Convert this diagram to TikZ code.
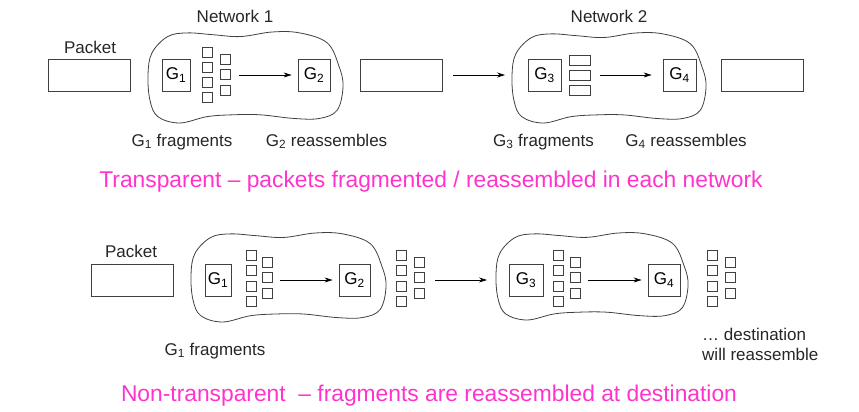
\documentclass[tikz,border=0pt]{standalone}
\usepackage{fontspec}
\setmainfont{Liberation Sans}
\usetikzlibrary{arrows.meta}
\definecolor{pinktext}{HTML}{FF33CC}
\definecolor{ln}{HTML}{404040}
\begin{document}
\begin{tikzpicture}[x=1pt,y=-1pt,
  pkt/.style={draw=ln, line width=0.8pt, minimum width=82pt, minimum height=32pt, inner sep=0pt},
  gw/.style={draw=ln, line width=0.8pt, minimum height=32pt, inner sep=0pt, font=\fontsize{17}{17}\selectfont},
  frag/.style={draw=ln, line width=0.8pt, minimum width=10pt, minimum height=10pt, inner sep=0pt},
  wfrag/.style={frag, minimum width=21pt},
  lbl/.style={font=\fontsize{17}{20}\selectfont, inner sep=0pt, text=black!85},
  pinklbl/.style={text=pinktext, font=\fontsize{22.8}{26}\selectfont, inner sep=0pt},
  arr/.style={-{Stealth[length=8pt,width=5pt]}, line width=0.7pt, draw=black},
  cloudline/.style={draw=ln, line width=0.8pt}]
\useasboundingbox (0,0) rectangle (859,412);

% ---------- cloud shape ----------
\def\cloudpts{(0.02,0.23) (0.10,0.05) (0.20,0.01) (0.33,0.03) (0.47,0.05) (0.63,0.0) (0.77,0.01) (0.91,0.12) (0.97,0.38) (0.99,0.60) (0.96,0.86) (0.87,0.95) (0.74,0.95) (0.57,0.91) (0.43,0.91) (0.30,0.93) (0.16,1.0) (0.05,0.93) (0.01,0.75) (0.0,0.47)}

% ================= TOP ROW =================
\node[lbl, anchor=base] (netA) at (235,23) {Network 1};
\node[lbl, anchor=base] (netB) at (609,23) {Network 2};

\node[pkt] (p1) at (89,75) {};
\node[lbl, anchor=base] (pl1) at (90,53) {Packet};

\begin{scope}[shift={(148,32)}, xscale=197, yscale=91]
  \draw[cloudline] plot[smooth cycle, tension=0.6] coordinates {\cloudpts};
\end{scope}
\node[gw, minimum width=28pt] (g1) at (176,75) {G\textsubscript{1}};
\node[frag] (a1) at (207.5,52.5) {};
\node[frag] (a2) at (207.5,67.5) {};
\node[frag] (a3) at (207.5,82.5) {};
\node[frag] (a4) at (207.5,97.5) {};
\node[frag] (a5) at (225.5,59.5) {};
\node[frag] (a6) at (225.5,74.5) {};
\node[frag] (a7) at (225.5,90) {};
\node[gw, minimum width=32pt] (g2) at (314,75) {G\textsubscript{2}};
\draw[arr, shorten <=8pt, shorten >=6pt] (a6.east |- g2) -- (g2);

\node[pkt] (p2) at (401,75) {};
\coordinate (c2w) at (512,75);
\draw[arr, shorten <=11pt, shorten >=7pt] (p2) -- (c2w);

\begin{scope}[shift={(512,33)}, xscale=196, yscale=90]
  \draw[cloudline] plot[smooth cycle, tension=0.6] coordinates {\cloudpts};
\end{scope}
\node[gw, minimum width=33pt] (g3) at (544.5,75) {G\textsubscript{3}};
\node[wfrag] (b1) at (579.5,60) {};
\node[wfrag] (b2) at (579.5,75) {};
\node[wfrag] (b3) at (579.5,90) {};
\node[gw, minimum width=33pt] (g4) at (679.5,75) {G\textsubscript{4}};
\draw[arr, shorten <=10pt, shorten >=11pt] (b2) -- (g4);

\node[pkt] (p3) at (762.5,75) {};

\node[lbl, anchor=base] (t1) at (182,146) {G\textsubscript{1} fragments};
\node[lbl, anchor=base] (t2) at (326.5,146) {G\textsubscript{2} reassembles};
\node[lbl, anchor=base] (t3) at (543.5,146) {G\textsubscript{3} fragments};
\node[lbl, anchor=base] (t4) at (686,146) {G\textsubscript{4} reassembles};

\node[pinklbl, anchor=base] (pk1) at (431,187) {Transparent – packets fragmented / reassembled in each network};

% ================= BOTTOM ROW =================
\node[pkt] (p4) at (132.5,280) {};
\node[lbl, anchor=base] (pl2) at (131,257) {Packet};

\begin{scope}[shift={(191,233)}, xscale=197, yscale=89]
  \draw[cloudline] plot[smooth cycle, tension=0.6] coordinates {\cloudpts};
\end{scope}
\node[gw, minimum width=26pt] (h1) at (218,280) {G\textsubscript{1}};
\node[frag] (c1) at (251.5,255.5) {};
\node[frag] (c2) at (251.5,270.5) {};
\node[frag] (c3) at (251.5,286.5) {};
\node[frag] (c4) at (251.5,301.5) {};
\node[frag] (c5) at (267.5,262) {};
\node[frag] (c6) at (267.5,277) {};
\node[frag] (c7) at (267.5,293) {};
\node[gw, minimum width=31pt] (h2) at (354.5,280) {G\textsubscript{2}};
\draw[arr, shorten <=7pt, shorten >=6pt] (c6.east |- h2) -- (h2);

\node[frag] (d1) at (401.5,255.5) {};
\node[frag] (d2) at (401.5,270.5) {};
\node[frag] (d3) at (401.5,286.5) {};
\node[frag] (d4) at (401.5,301.5) {};
\node[frag] (d5) at (419.5,262) {};
\node[frag] (d6) at (419.5,277) {};
\node[frag] (d7) at (419.5,293) {};
\coordinate (c4w) at (496,280);
\draw[arr, shorten <=10pt, shorten >=9pt] (d6.east |- c4w) -- (c4w);

\begin{scope}[shift={(496,233)}, xscale=194, yscale=87]
  \draw[cloudline] plot[smooth cycle, tension=0.6] coordinates {\cloudpts};
\end{scope}
\node[gw, minimum width=34pt] (h3) at (526,280) {G\textsubscript{3}};
\node[frag] (e1) at (558.5,255.5) {};
\node[frag] (e2) at (558.5,270.5) {};
\node[frag] (e3) at (558.5,286.5) {};
\node[frag] (e4) at (558.5,301.5) {};
\node[frag] (e5) at (575.5,262) {};
\node[frag] (e6) at (575.5,277) {};
\node[frag] (e7) at (575.5,293) {};
\node[gw, minimum width=32pt] (h4) at (664,280) {G\textsubscript{4}};
\draw[arr, shorten <=7pt, shorten >=6pt] (e6.east |- h4) -- (h4);

\node[frag] (f1) at (712.5,255.5) {};
\node[frag] (f2) at (712.5,270.5) {};
\node[frag] (f3) at (712.5,286.5) {};
\node[frag] (f4) at (712.5,301.5) {};
\node[frag] (f5) at (730.5,262) {};
\node[frag] (f6) at (730.5,277) {};
\node[frag] (f7) at (730.5,293) {};

\node[lbl, anchor=base] (t5) at (215,355) {G\textsubscript{1} fragments};
\node[lbl, anchor=base west] (t6) at (702,340) {… destination};
\node[lbl, anchor=base west] (t7) at (702,360) {will reassemble};

\node[pinklbl, anchor=base] (pk2) at (429,401) {Non-transparent \ – fragments are reassembled at destination};
\end{tikzpicture}
\end{document}
